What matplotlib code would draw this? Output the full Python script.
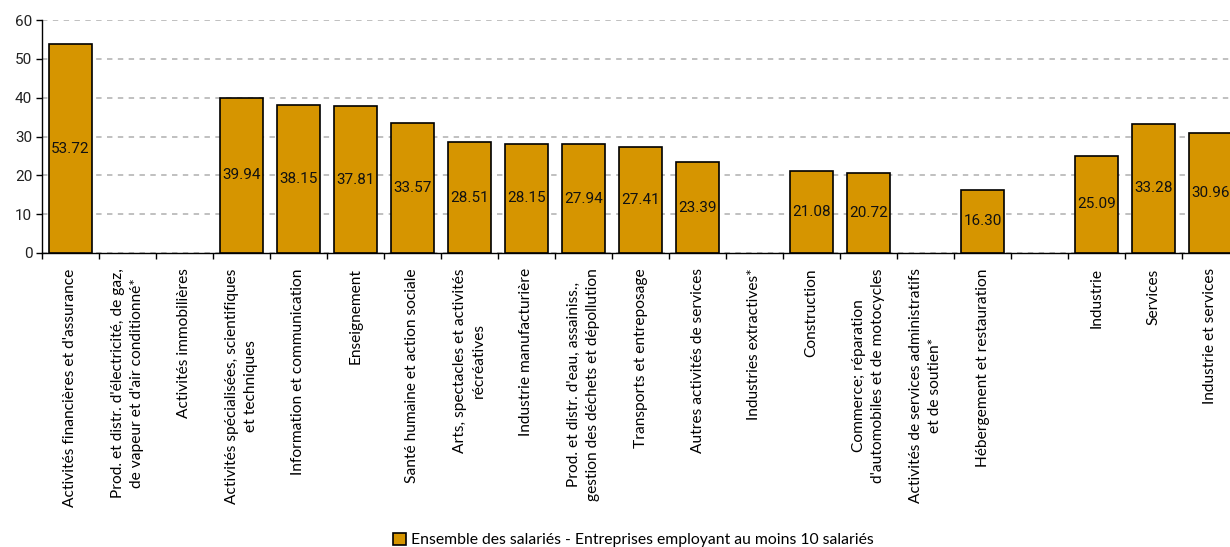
import numpy as np
import matplotlib
matplotlib.use("Agg")
import matplotlib.pyplot as plt
from matplotlib.patches import Patch

categories = [
    "Activités financières et d'assurance",
    "Prod. et distr. d'électricité, de gaz,\nde vapeur et d'air conditionné*",
    "Activités immobilières",
    "Activités spécialisées, scientifiques\net techniques",
    "Information et communication",
    "Enseignement",
    "Santé humaine et action sociale",
    "Arts, spectacles et activités\nrécréatives",
    "Industrie manufacturière",
    "Prod. et distr. d'eau, assainiss.,\ngestion des déchets et dépollution",
    "Transports et entreposage",
    "Autres activités de services",
    "Industries extractives*",
    "Construction",
    "Commerce; réparation\nd'automobiles et de motocycles",
    "Activités de services administratifs\net de soutien*",
    "Hébergement et restauration",
    "",
    "Industrie",
    "Services",
    "Industrie et services",
]
values = [53.72, np.nan, np.nan, 39.94, 38.15, 37.81, 33.57, 28.51, 28.15, 27.94,
          27.41, 23.39, np.nan, 21.08, 20.72, np.nan, 16.30, np.nan, 25.09, 33.28, 30.96]
legend_label = "Ensemble des salariés - Entreprises employant au moins 10 salariés"

bar_color = "#D69500"
label_font = ["Lato", "DejaVu Sans"]
num_font = ["Roboto", "DejaVu Sans"]

fig = plt.figure(figsize=(12.3, 5.47), dpi=100)
ax = fig.add_axes([42 / 1230, 1 - 253 / 547, 1197 / 1230, 233 / 547])

x = np.arange(len(categories))
vals = np.array(values, dtype=float)
has = ~np.isnan(vals)
ax.bar(x[has], vals[has], width=0.77, color=bar_color, edgecolor="black",
       linewidth=1.2, zorder=3)
for xi, v in zip(x[has], vals[has]):
    ax.text(xi, v / 2, f"{v:.2f}", ha="center", va="center", fontsize=11,
            family=num_font, color="#111111", zorder=4)

ax.set_xlim(-0.5, len(categories) - 0.5)
ax.set_ylim(0, 60)
ax.set_yticks(range(0, 61, 10))
ax.yaxis.grid(True, linestyle=(0, (3, 3)), color="#BBBBBB", linewidth=1.3, zorder=0)
ax.set_axisbelow(True)
for s in ["top", "right"]:
    ax.spines[s].set_visible(False)
for s in ["left", "bottom"]:
    ax.spines[s].set_linewidth(1.0)

ax.set_xticks(x)
ax.set_xticklabels(categories, rotation=90, ha="center", va="top",
                   multialignment="center", fontsize=11.2, family=label_font,
                   linespacing=1.45)
ax.set_xticks(np.arange(-0.5, len(categories), 1), minor=True)
ax.tick_params(axis="x", which="major", length=0, pad=11)
ax.tick_params(axis="x", which="minor", length=4, width=1)
ax.tick_params(axis="y", length=4, width=1, labelsize=11, pad=3)
for t in ax.get_yticklabels():
    t.set_family(num_font)
    t.set_color("#222222")

handle = Patch(facecolor=bar_color, edgecolor="black", linewidth=1.2)
fig.legend([handle], [legend_label], loc="center", bbox_to_anchor=(0.515, 1 - 540 / 547),
           frameon=False, handlelength=0.8, handleheight=0.8, handletextpad=0.3,
           prop={"family": label_font, "size": 11.3})

fig.savefig("out.png", dpi=100)
